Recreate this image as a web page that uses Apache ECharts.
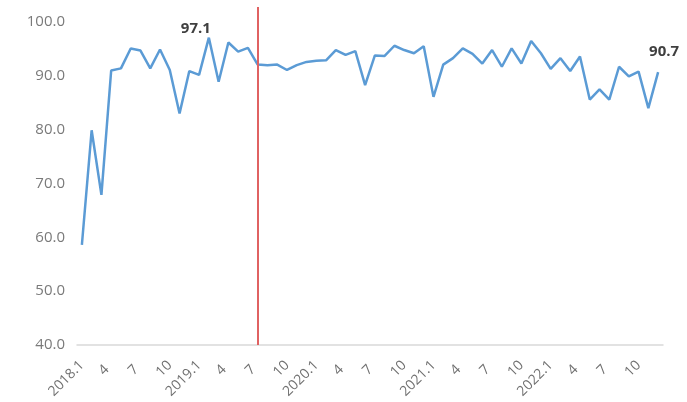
<!DOCTYPE html>
<html>
<head>
<meta charset="utf-8">
<script src="https://cdn.jsdelivr.net/npm/echarts@6/dist/echarts.min.js"></script>
<style>
  html, body { margin: 0; padding: 0; background: #fff; }
  #chart { width: 687px; height: 402px; }
</style>
</head>
<body>
<div id="chart"></div>
<script>
// Monthly index, 2018.1 – 2022.12
const years = [2018, 2019, 2020, 2021, 2022];
const months = [1, 2, 3, 4, 5, 6, 7, 8, 9, 10, 11, 12];
const categories = [];
years.forEach(y => months.forEach(m => categories.push(y + '.' + m)));

const values = [
  58.6, 79.9, 67.9, 91.0, 91.4, 95.1, 94.7, 91.4, 94.9, 91.1, 83.0, 90.9,
  90.2, 97.1, 88.9, 96.2, 94.5, 95.2, 92.1, 92.0, 92.1, 91.1, 92.0, 92.6,
  92.8, 92.9, 94.8, 93.9, 94.6, 88.3, 93.8, 93.7, 95.6, 94.8, 94.2, 95.5,
  86.1, 92.1, 93.3, 95.1, 94.1, 92.3, 94.8, 91.7, 95.1, 92.3, 96.5, 94.2,
  91.3, 93.3, 90.9, 93.6, 85.6, 87.5, 85.6, 91.7, 89.9, 90.8, 84.0, 90.7
];

// points whose value is printed, with the label nudge for each
const labelledPoints = { 13: [-13, 4], 59: [6, -8] };

// month marked by the vertical divider
const dividerMonth = '2019.7';

const seriesData = values.map((v, i) => {
  const off = labelledPoints[i];
  if (!off) return v;
  return {
    value: v,
    label: {
      show: true,
      position: 'top',
      offset: off,
      formatter: p => p.value.toFixed(1),
      color: '#404040',
      fontSize: 15,
      fontWeight: 'bold',
      fontFamily: 'Open Sans'
    }
  };
});

const chart = echarts.init(document.getElementById('chart'));
chart.setOption({
  animation: false,
  backgroundColor: '#fff',
  grid: { left: 77, right: 24, top: 7, bottom: 57 },
  xAxis: {
    type: 'category',
    data: categories,
    boundaryGap: true,
    axisLine: { lineStyle: { color: '#d9d9d9', width: 1.5 } },
    axisTick: { show: false },
    axisLabel: {
      interval: 2,
      rotate: 45,
      margin: 18,
      color: '#707070',
      fontSize: 14,
      fontFamily: 'Open Sans',
      formatter: v => {
        const m = v.split('.')[1];
        if (m === '1') return v;
        return m.length === 1 ? '{s|' + m + '}' : m;
      },
      rich: {
        s: { fontSize: 14, fontFamily: 'Open Sans', color: '#707070', padding: [0, 6, 0, 0] }
      }
    }
  },
  yAxis: {
    type: 'value',
    min: 40,
    max: 102.8,
    interval: 10,
    splitLine: { show: false },
    axisLine: { show: false },
    axisTick: { show: false },
    axisLabel: {
      showMaxLabel: false,
      margin: 12,
      color: '#7a7a7a',
      fontSize: 15,
      fontFamily: 'Open Sans',
      formatter: v => v.toFixed(1)
    }
  },
  series: [{
    type: 'line',
    data: seriesData,
    symbol: 'circle',
    symbolSize: 0,
    showSymbol: true,
    showAllSymbol: true,
    smooth: false,
    lineStyle: { color: '#5B9BD5', width: 2.5 },
    itemStyle: { color: '#5B9BD5' },
    markLine: {
      silent: true,
      symbol: 'none',
      label: { show: false },
      lineStyle: { color: '#E06262', width: 2, type: 'solid' },
      data: [[
        { coord: [dividerMonth, 40] },
        { coord: [dividerMonth, 102.8] }
      ]]
    }
  }]
});
</script>
</body>
</html>
